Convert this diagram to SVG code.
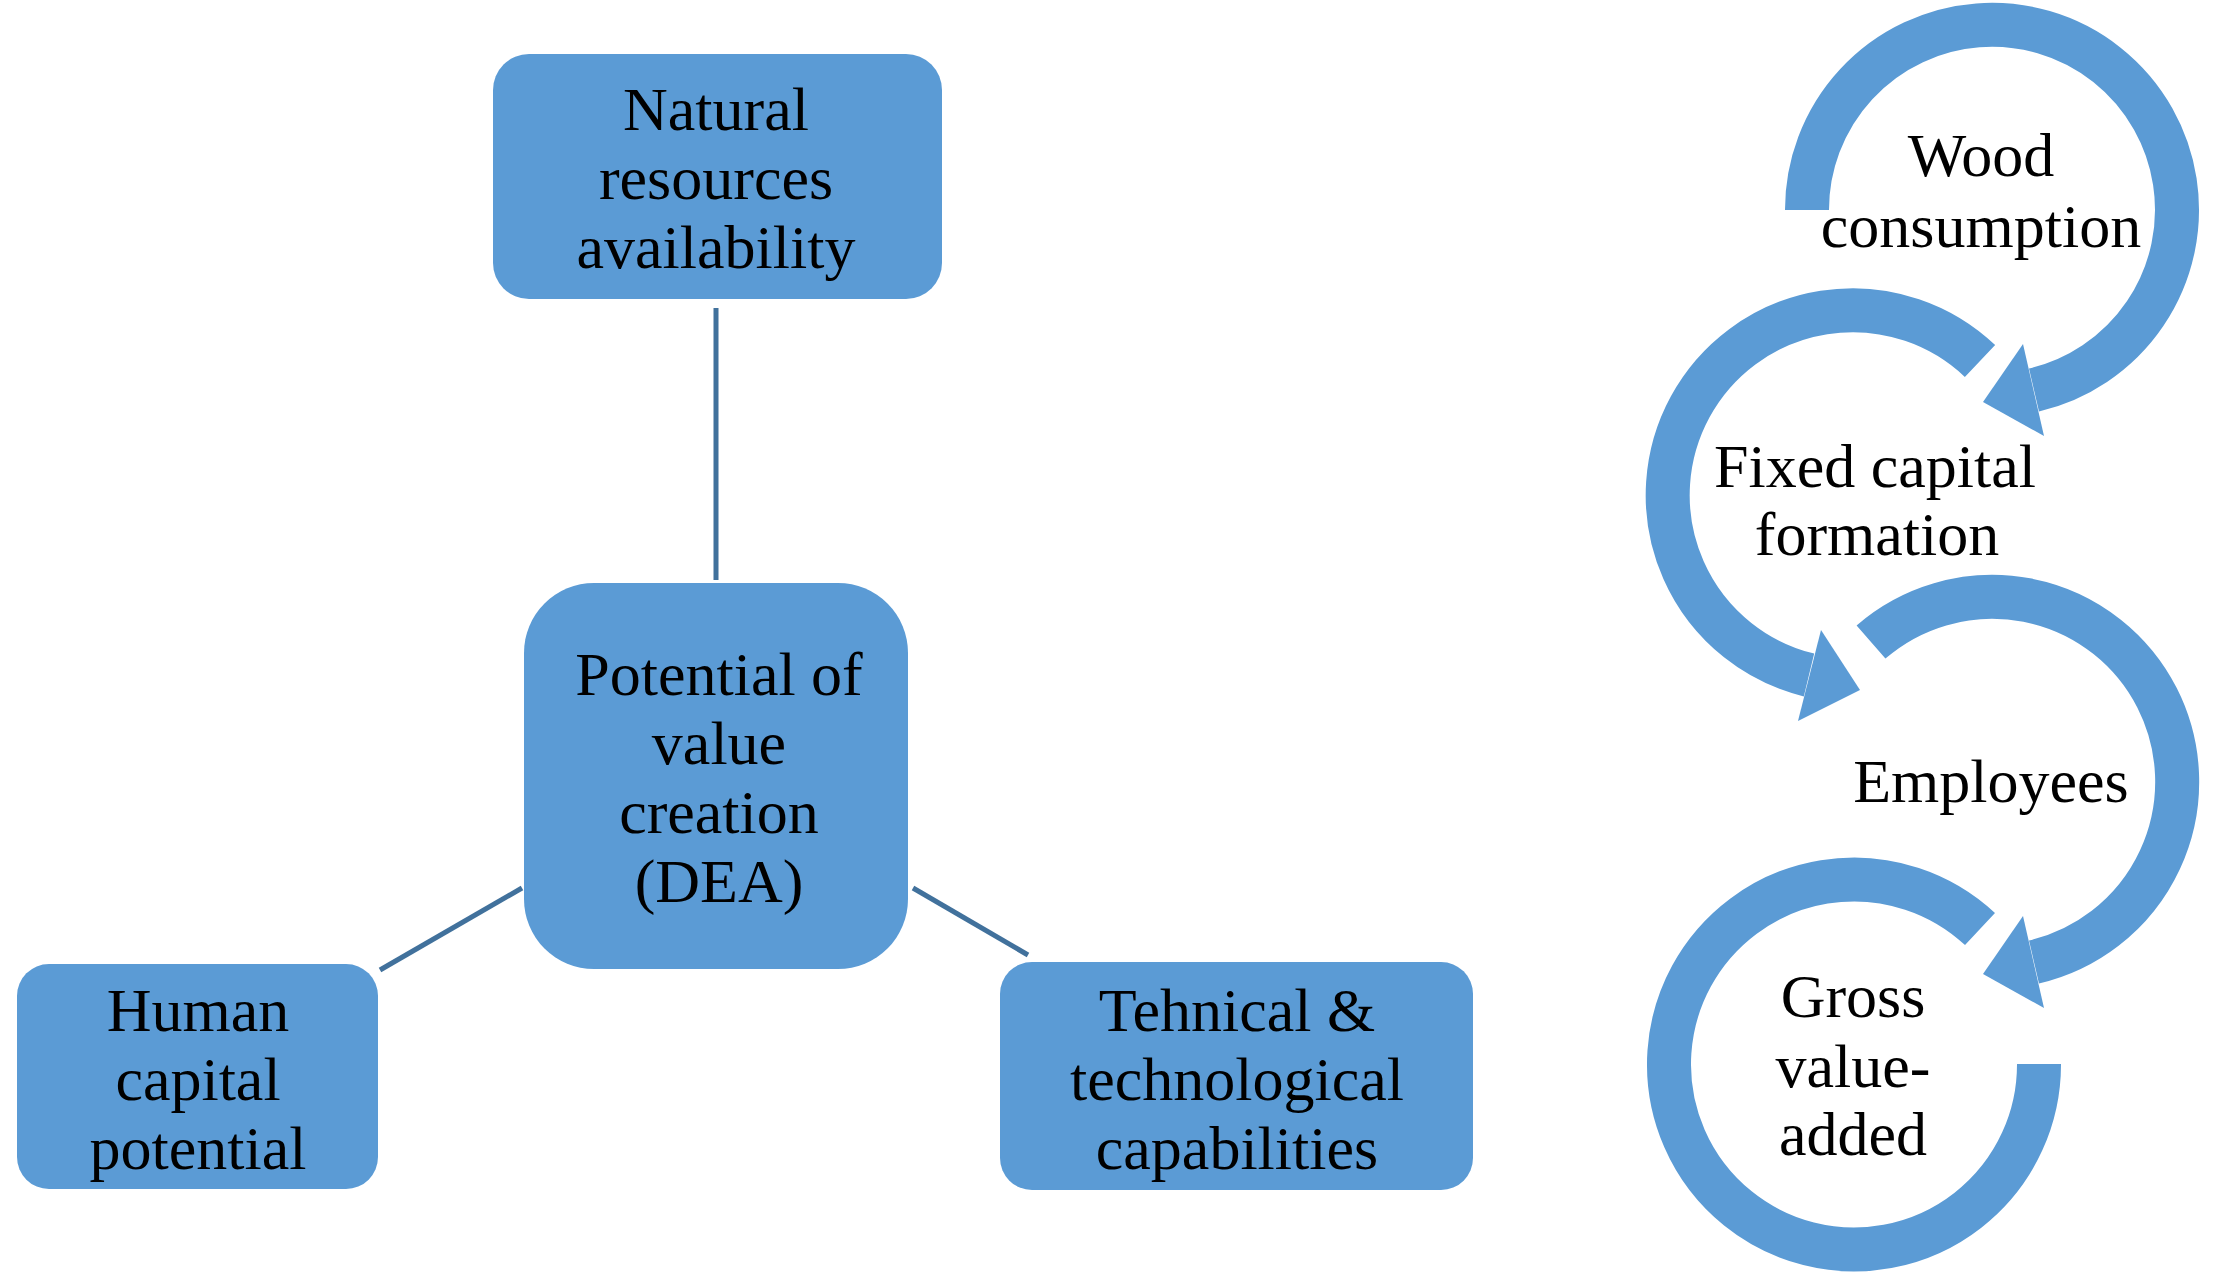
<svg xmlns="http://www.w3.org/2000/svg" width="2214" height="1279" viewBox="0 0 2214 1279">
<style>
.box{fill:#5B9BD5;}
.ln{stroke:#41719C;stroke-width:5;fill:none;}
.ring{fill:none;stroke:#5B9BD5;stroke-width:44;}
.head{fill:#5B9BD5;}
text{font-family:"Liberation Serif","Times New Roman",serif;font-size:62px;fill:#000;text-anchor:middle;}
</style>
<rect width="2214" height="1279" fill="#fff"/>
<g id="connectors">
<line class="ln" x1="716" y1="308" x2="716" y2="580"/>
<line class="ln" x1="380" y1="970" x2="522" y2="888"/>
<line class="ln" x1="913" y1="888" x2="1028" y2="955"/>
</g>
<g id="natural">
<rect class="box" x="493" y="54" width="449" height="245" rx="36"/>
<text x="716" y="130">Natural</text><text x="716" y="199">resources</text><text x="716" y="268">availability</text>
</g>
<g id="potential">
<rect class="box" x="524" y="583" width="384" height="386" rx="70"/>
<text x="719" y="695">Potential of</text><text x="719" y="764">value</text><text x="719" y="833">creation</text><text x="719" y="902">(DEA)</text>
</g>
<g id="human">
<rect class="box" x="17" y="964" width="361" height="225" rx="32"/>
<text x="198" y="1031">Human</text><text x="198" y="1100">capital</text><text x="198" y="1169">potential</text>
</g>
<g id="technical">
<rect class="box" x="1000" y="962" width="473" height="228" rx="32"/>
<text x="1237" y="1031">Tehnical &amp;</text><text x="1237" y="1100">technological</text><text x="1237" y="1169">capabilities</text>
</g>
<g id="wood">
<path class="ring" d="M1807,210 A185,185 0 1 1 2034,390"/>
<polygon class="head" points="2044,436 2023,344 1983,402"/>
<text x="1981" y="176">Wood</text><text x="1981" y="247">consumption</text>
</g>
<g id="fixed">
<path class="ring" d="M1980,361 A185,185 0 1 0 1809,675"/>
<polygon class="head" points="1798,721 1821,630 1860,690"/>
<text x="1875" y="487">Fixed capital</text><text x="1877" y="555">formation</text>
</g>
<g id="employees">
<path class="ring" d="M1871,642 A185,185 0 1 1 2034,962"/>
<polygon class="head" points="2044,1008 2023,916 1983,974"/>
<text x="1991" y="802">Employees</text>
</g>
<g id="gross">
<path class="ring" d="M1980,929 A185,185 0 1 0 2039,1064"/>
<text x="1853" y="1017">Gross</text><text x="1853" y="1087">value-</text><text x="1853" y="1155">added</text>
</g>
</svg>
